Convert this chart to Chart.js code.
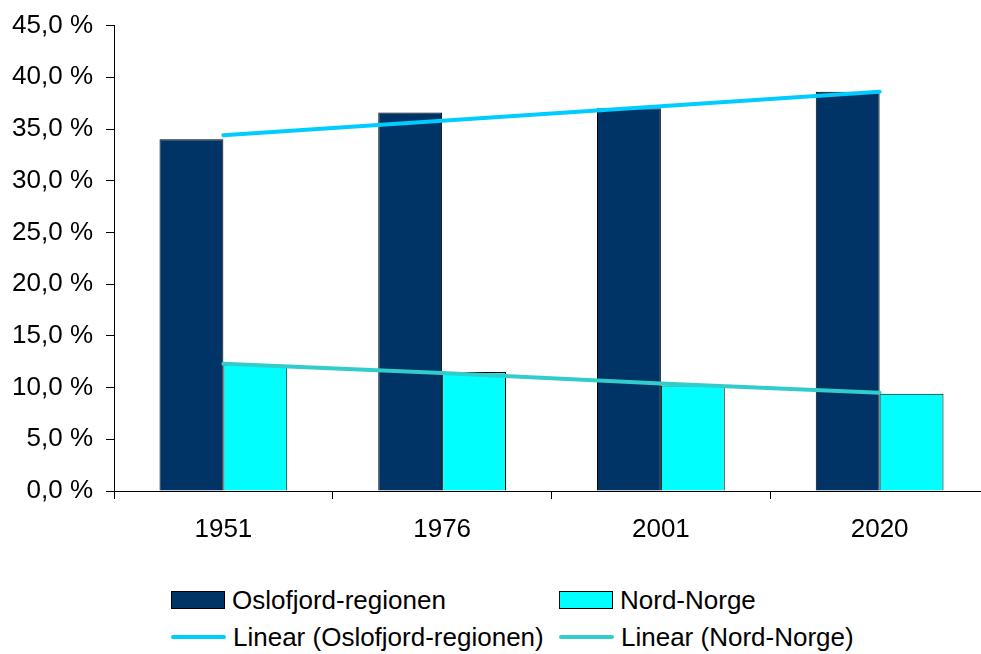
<!DOCTYPE html>
<html lang="no">
<head>
    <meta charset="UTF-8">
    <title>Oslofjord-regionen og Nord-Norge</title>
    <script src="https://cdn.jsdelivr.net/npm/chart.js"></script>
    <style>
        body {
            margin: 0;
            width: 981px;
            height: 654px;
            overflow: hidden;
            background: #fff;
            font-family: 'Liberation Sans', Arial, sans-serif;
        }

        .chart-box {
            position: absolute;
            left: 0;
            top: -3px;
            width: 1000px;
            height: 563px;
        }

        /* legend, 2 x 2 like the original */
        .legend-item {
            position: absolute;
            display: flex;
            align-items: center;
            font-size: 26px;
            color: #000;
            white-space: nowrap;
        }

        .legend-item .swatch {
            width: 52px;
            height: 16px;
            border: 1px solid #000;
            margin-right: 7px;
        }

        .legend-item .swatch.line {
            height: 4px;
            border: none;
            border-radius: 2px;
            margin-right: 7px;
            width: 55px;
        }
    </style>
</head>
<body>
    <div class="chart-box">
        <canvas id="chart"></canvas>
    </div>
    <div id="legend"></div>

    <script>
        // data
        const years = ["1951", "1976", "2001", "2020"];
        const oslofjord = [34.0, 36.6, 37.0, 38.6];
        const nordNorge = [12.2, 11.5, 10.2, 9.4];
        const trendOslofjord = [34.4, 35.8, 37.2, 38.6];
        const trendNordNorge = [12.3, 11.4, 10.4, 9.5];

        const font = { family: "'Liberation Sans', Arial, sans-serif", size: 26 };

        const ctx = document.getElementById('chart').getContext('2d');
        const chart = new Chart(ctx, {
            type: 'bar',
            data: {
                labels: years,
                datasets: [
                    {
                        label: 'Oslofjord-regionen',
                        data: oslofjord,
                        backgroundColor: '#003366',
                        borderColor: '#000',
                        borderWidth: 1,
                        order: 1
                    },
                    {
                        label: 'Nord-Norge',
                        data: nordNorge,
                        backgroundColor: '#00FFFF',
                        borderColor: '#000',
                        borderWidth: 1,
                        order: 1
                    },
                    {
                        type: 'line',
                        label: 'Linear (Oslofjord-regionen)',
                        data: trendOslofjord,
                        borderColor: '#00CCFF',
                        borderWidth: 4,
                        pointRadius: 0,
                        borderCapStyle: 'round',
                        fill: false,
                        order: 0
                    },
                    {
                        type: 'line',
                        label: 'Linear (Nord-Norge)',
                        data: trendNordNorge,
                        borderColor: '#33CCCC',
                        borderWidth: 4,
                        pointRadius: 0,
                        borderCapStyle: 'round',
                        fill: false,
                        order: 0
                    }
                ]
            },
            options: {
                responsive: true,
                maintainAspectRatio: false,
                animation: false,
                layout: { padding: { top: 21, left: 0, right: 11, bottom: 0 } },
                plugins: {
                    legend: { display: false },
                    tooltip: { enabled: false }
                },
                datasets: {
                    bar: { categoryPercentage: 0.584, barPercentage: 1.0 }
                },
                scales: {
                    x: {
                        offset: true,
                        grid: { offset: true, drawOnChartArea: false, drawTicks: true, tickLength: 8, color: '#000' },
                        border: { color: '#000', width: 1 },
                        ticks: { color: '#000', font: font, padding: 15, maxRotation: 0 },
                        afterFit: function (scale) { scale.height = 69; }
                    },
                    y: {
                        min: 0,
                        max: 45,
                        grid: { drawOnChartArea: false, drawTicks: true, tickLength: 8, color: '#000' },
                        border: { color: '#000', width: 1 },
                        ticks: {
                            stepSize: 5,
                            color: '#000',
                            font: font,
                            padding: 13,
                            callback: v => v.toFixed(1).replace('.', ',') + ' %'
                        },
                        afterFit: function (scale) { scale.width = 114; }
                    }
                }
            }
        });

        // HTML legend in two columns
        const legendPos = [
            { left: 171, top: 585 },
            { left: 559, top: 585 },
            { left: 171, top: 622 },
            { left: 559, top: 622 }
        ];
        const legend = document.getElementById('legend');
        chart.data.datasets.forEach((ds, i) => {
            let item = document.createElement('div');
            item.className = 'legend-item';
            item.style.left = legendPos[i].left + 'px';
            item.style.top = legendPos[i].top + 'px';
            item.style.height = '30px';
            let sw = document.createElement('span');
            sw.className = ds.type === 'line' ? 'swatch line' : 'swatch';
            sw.style.background = ds.type === 'line' ? ds.borderColor : ds.backgroundColor;
            let txt = document.createElement('span');
            txt.textContent = ds.label;
            item.appendChild(sw);
            item.appendChild(txt);
            legend.appendChild(item);
        });
    </script>
</body>
</html>
